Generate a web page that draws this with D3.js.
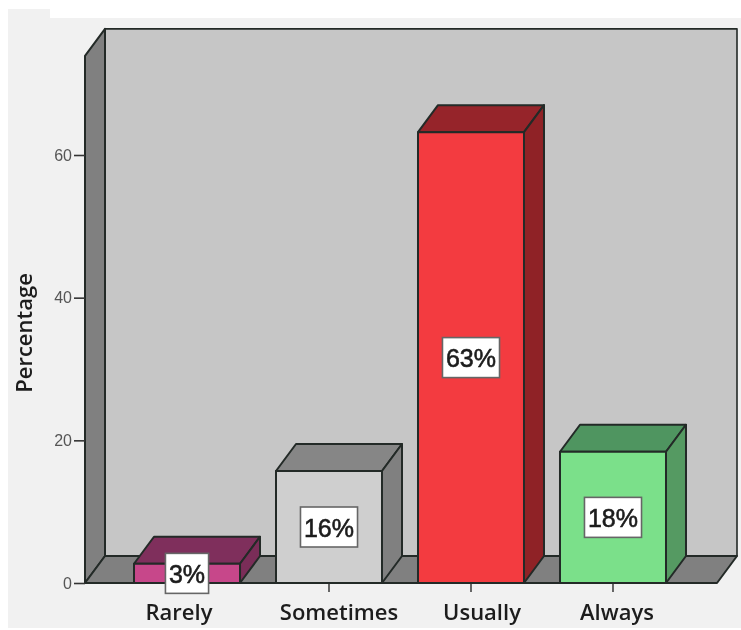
<!DOCTYPE html>
<html><head><meta charset="utf-8">
<script src="https://cdn.jsdelivr.net/npm/d3@7/dist/d3.min.js"></script>
<style>html,body{margin:0;padding:0;background:#fff;overflow:hidden}svg{display:block;filter:blur(.55px)}</style>
</head><body><div id="c"></div>
<script>
const categories=["Rarely","Sometimes","Usually","Always"];
const values=[2.7,15.7,63.2,18.4];
const valueLabels=["3%","16%","63%","18%"];
const yTicks=[0,20,40,60];
const frontColors=["#c7478a","#cfcfcf","#f33b40","#7be08a"];
const topColors=["#7f2f5c","#868686","#96242a","#4f9560"];
const sideColors=["#7a2d58","#808080","#8f2226","#559a62"];
const labelShift=[-7,11,12,5];

const W=741,H=630,dx=20,dy=-27,line="#232a27";
const svg=d3.select("#c").append("svg").attr("width",W).attr("height",H);
const y=d3.scaleLinear().domain([0,60]).range([583,155]);
const x=d3.scaleBand().domain(categories).range([116,684]).paddingInner(.2535).paddingOuter(.1268);
const yMax=73.9,floorL=85,floorR=717;
const poly=(pts,fill,sw=2)=>svg.append("polygon").attr("points",pts.map(p=>p.join(",")).join(" ")).attr("fill",fill).attr("stroke",line).attr("stroke-width",sw).attr("stroke-linejoin","round");

svg.append("rect").attr("x",8).attr("y",18).attr("width",W-8).attr("height",H-20).attr("fill","#f1f1f1");
svg.append("rect").attr("x",8).attr("y",9).attr("width",42).attr("height",10).attr("fill","#f1f1f1");

// walls
poly([[floorL+dx,y(yMax)+dy],[floorR+dx,y(yMax)+dy],[floorR+dx,y(0)+dy],[floorL+dx,y(0)+dy]],"#c6c6c6",1.6);
poly([[floorL,y(yMax)],[floorL+dx,y(yMax)+dy],[floorL+dx,y(0)+dy],[floorL,y(0)]],"#808080");
poly([[floorL,y(0)],[floorL+dx,y(0)+dy],[floorR+dx,y(0)+dy],[floorR,y(0)]],"#808080");

// axes
const yAxis=d3.axisLeft(y).tickValues(yTicks).tickSize(11).tickPadding(2);
const gy=svg.append("g").attr("transform",`translate(${floorL},0)`).call(yAxis);
gy.select(".domain").remove();
gy.selectAll("line").attr("stroke","#333").attr("stroke-width",1.6);
gy.selectAll("text").attr("font-family","Liberation Sans").attr("font-size",16).attr("fill","#555");

const xAxis=d3.axisBottom(x).tickSize(9).tickFormat("");
const gx=svg.append("g").attr("transform",`translate(0,${y(0)})`).call(xAxis);
gx.select(".domain").remove();
gx.selectAll("line").attr("stroke","#444").attr("stroke-width",1.6);

svg.append("text").attr("transform","translate(32,333) rotate(-90)").attr("text-anchor","middle")
  .attr("font-family","Open Sans").attr("font-weight",600).attr("font-size",22).attr("fill","#1c1c1c").text("Percentage");

// bars
categories.forEach((c,i)=>{
  const l=x(c),r=l+x.bandwidth(),t=y(values[i]),b=y(0);
  poly([[l,t],[l+dx,t+dy],[r+dx,t+dy],[r,t]],topColors[i]);
  poly([[r,t],[r+dx,t+dy],[r+dx,b+dy],[r,b]],sideColors[i]);
  poly([[l,t],[r,t],[r,b],[l,b]],frontColors[i]);
});

// value labels
categories.forEach((c,i)=>{
  const cx=x(c)+x.bandwidth()/2,cy=(y(values[i])+y(0))/2;
  const g=svg.append("g");
  const box=g.append("rect").attr("fill","#fff").attr("stroke","#666").attr("stroke-width",1.6);
  const t=g.append("text").attr("x",cx).attr("y",cy+9.5).attr("text-anchor","middle")
    .attr("font-family","Liberation Sans").attr("font-size",25).attr("fill","#1c1c1c")
    .attr("stroke","#1c1c1c").attr("stroke-width",.6).text(valueLabels[i]);
  const w=t.node().getComputedTextLength()+7;
  box.attr("x",cx-w/2).attr("y",cy-20).attr("width",w).attr("height",40);
});

// category labels
categories.forEach((c,i)=>{
  svg.append("text").attr("x",x(c)+x.bandwidth()/2+labelShift[i]-1).attr("y",620).attr("text-anchor","middle")
    .attr("font-family","Open Sans").attr("font-weight",600).attr("font-size",22).attr("fill","#1c1c1c").text(c);
});
</script></body></html>
